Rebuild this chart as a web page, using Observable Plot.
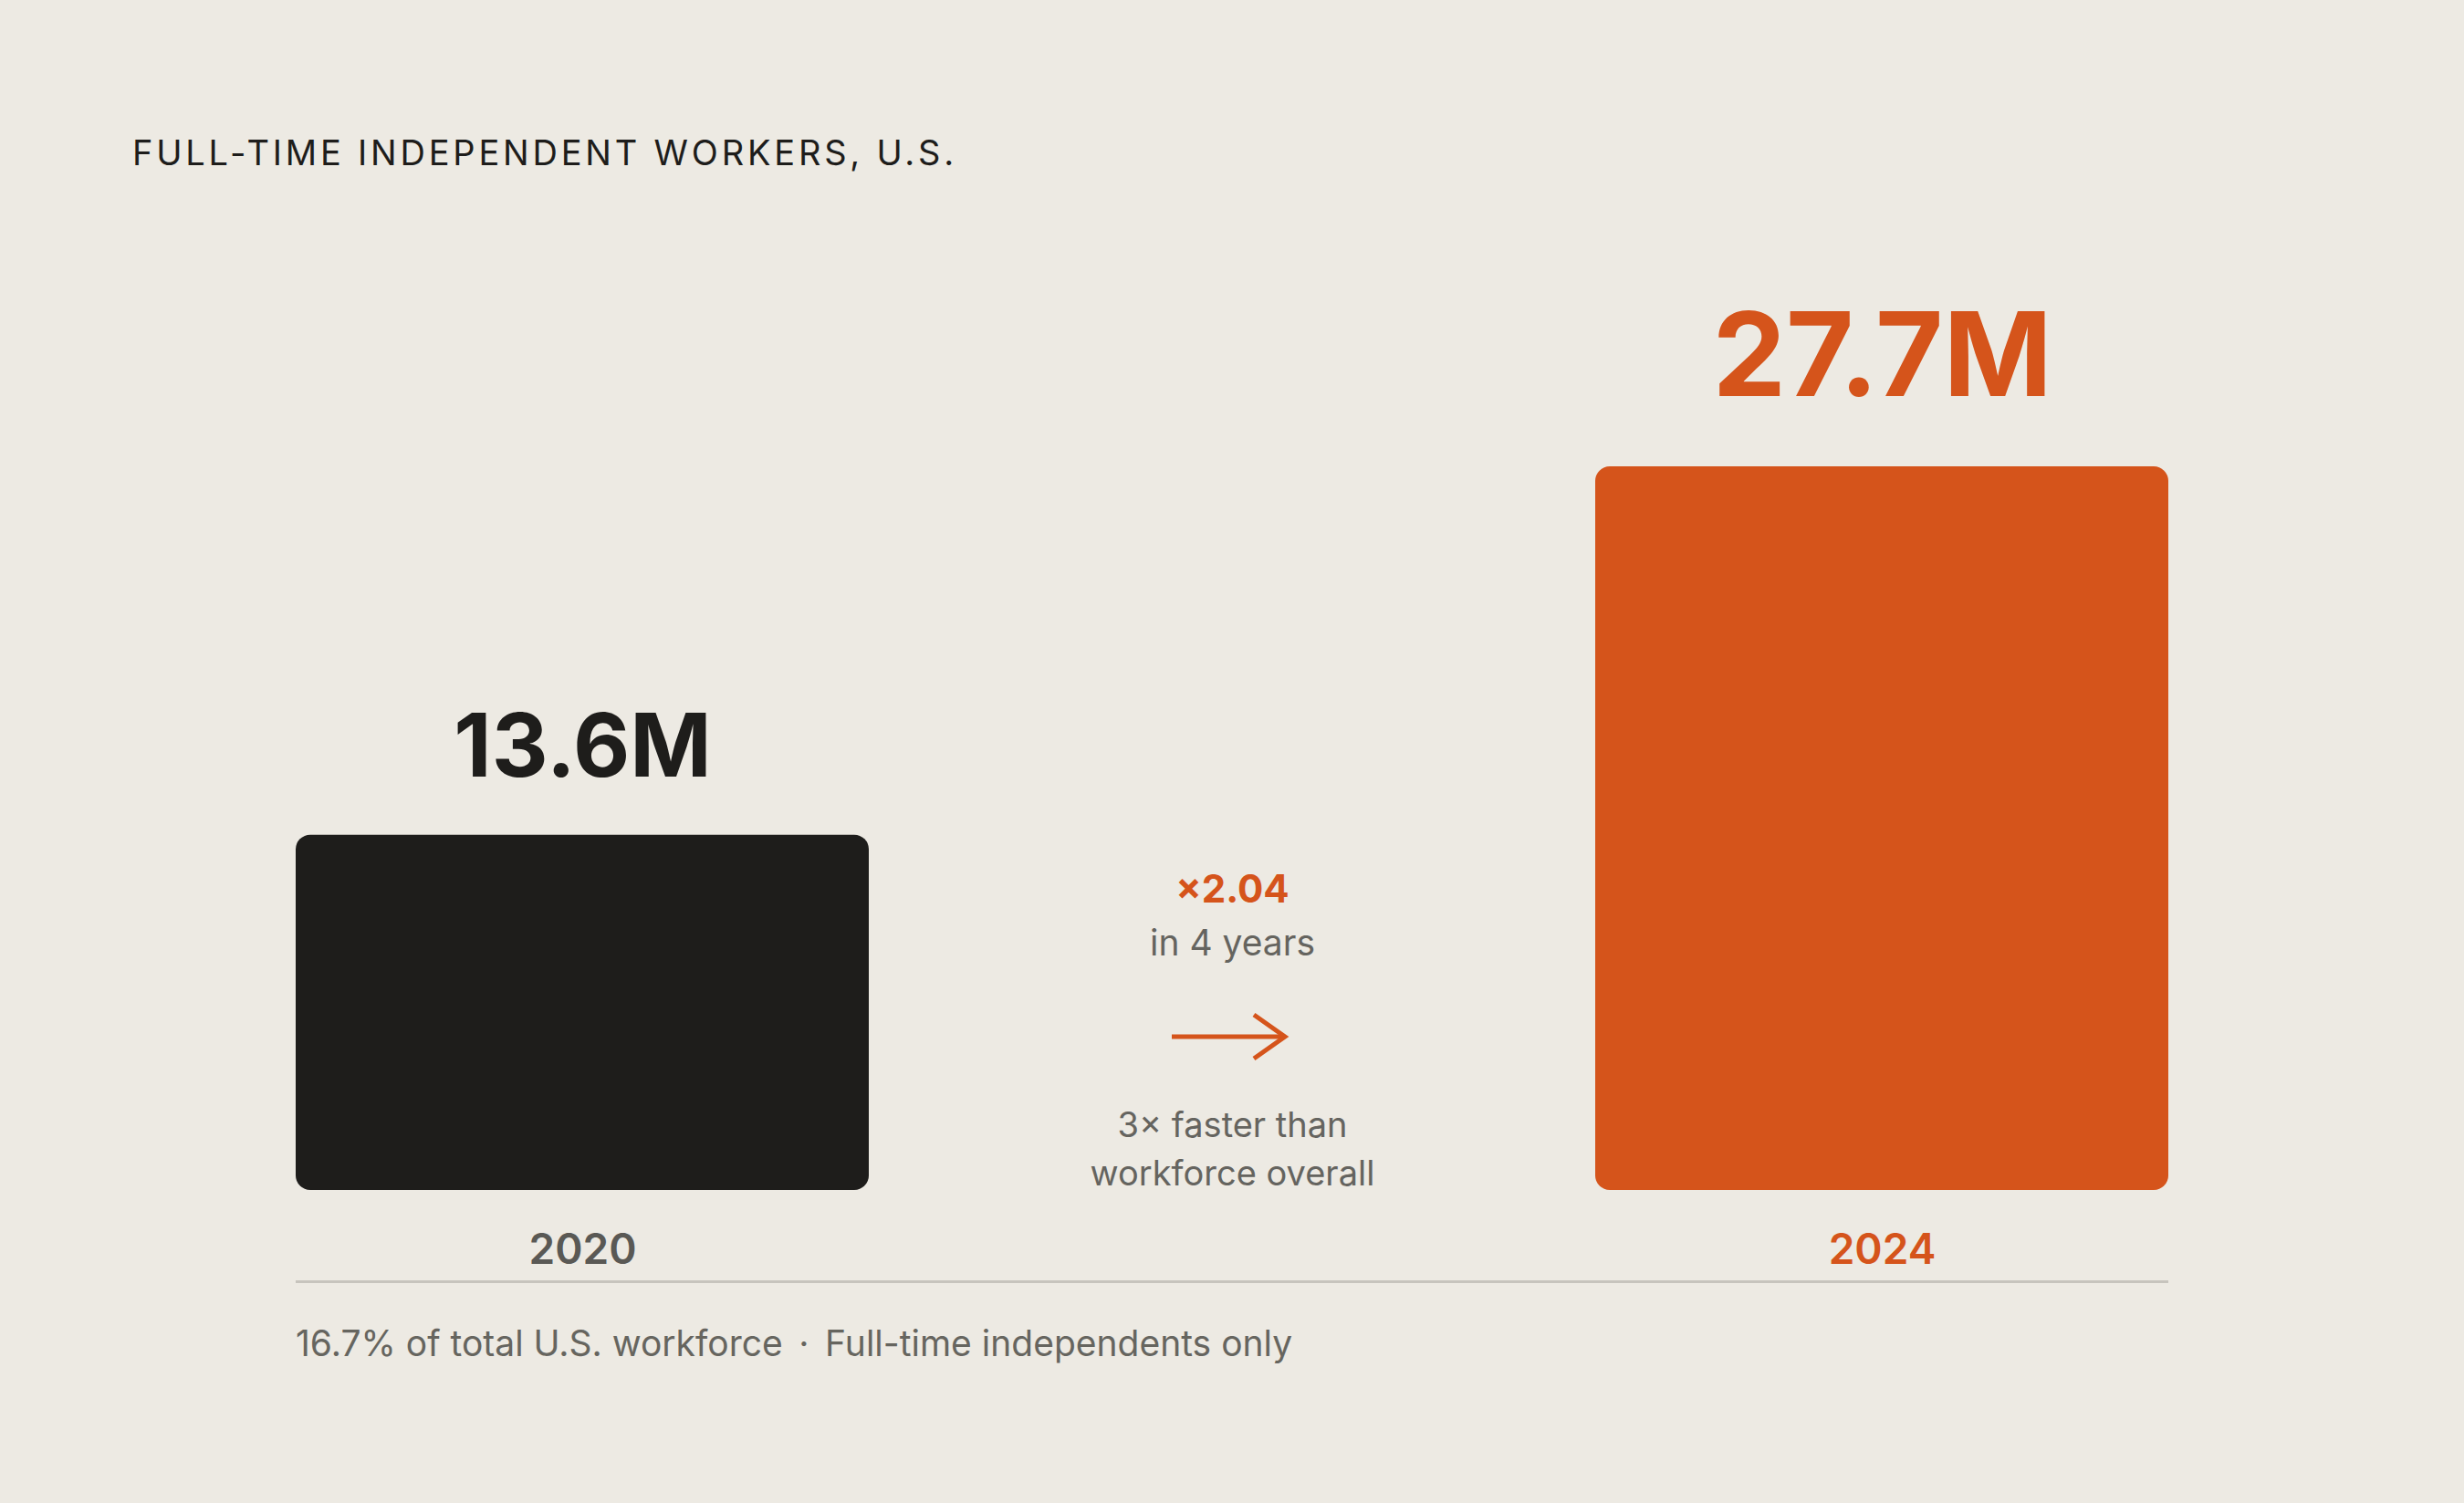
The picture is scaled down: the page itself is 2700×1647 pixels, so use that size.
<!DOCTYPE html>
<html><head><meta charset="utf-8">
<script src="https://cdn.jsdelivr.net/npm/d3@7"></script>
<script src="https://cdn.jsdelivr.net/npm/@observablehq/plot@0.6"></script>
<style>
html,body{margin:0;padding:0;background:#edeae3;}
body{width:2700px;height:1647px;overflow:hidden;font-family:Inter,"DejaVu Sans",sans-serif;}
#title{padding:148px 0 0 145px;font-size:38px;line-height:38px;height:38px;letter-spacing:0.1em;color:#1e1d1b;}
#chart svg{display:block}
#caption{margin:23px 0 0 324px;font-size:39px;line-height:38px;color:#66655f;white-space:pre;}
#caption .sep{margin:0 0.45em;}
</style></head><body>
<div id="title">FULL-TIME INDEPENDENT WORKERS, U.S.</div>
<div id="chart"></div>
<div id="caption"></div>
<script>
// ---- data ----
const years = ["2020", "2024"];
const workersM = [13.6, 27.7];
const valueLabels = ["13.6M", "27.7M"];
const midSlot = "→";
const growthLabel = "×2.04";
const growthNote = "in 4 years";
const compareNote = ["3× faster than", "workforce overall"];
const captionParts = ["16.7% of total U.S. workforce", "Full-time independents only"];

// ---- style ----
const ORANGE = "#d5541b", DARK = "#1e1d1b", GRAY = "#65645f", YEARGRAY = "#5a5955", RULE = "#c7c4bd";

const data = years.map((y, i) => ({year: y, value: workersM[i], label: valueLabels[i]}));
const isNew = d => d.year === years[1];

document.getElementById("caption").innerHTML =
  captionParts[0] + '<span class="sep">·</span>' + captionParts[1];

const arrowMark = (index, scales) => {
  const x = scales.x, y = scales.y;
  const bw = typeof x.bandwidth === "function" ? x.bandwidth() : (x.bandwidth ?? 0);
  const cx = x(midSlot) + bw / 2 - 4;
  const cy = y(0) - 168;
  const half = 62;
  const g = d3.create("svg:g").attr("fill", "none").attr("stroke", ORANGE)
    .attr("stroke-width", 5).attr("stroke-linecap", "butt");
  g.append("line").attr("x1", cx - half).attr("x2", cx + half - 2).attr("y1", cy).attr("y2", cy);
  g.append("path").attr("d", `M${cx + half - 34},${cy - 24}L${cx + half},${cy}L${cx + half - 34},${cy + 24}`);
  return g.node();
};

const chart = Plot.plot({
  width: 2700,
  height: 1244,
  marginLeft: 324,
  marginRight: 324,
  marginTop: 325,
  marginBottom: 126,
  style: {fontFamily: "Inter, 'DejaVu Sans', sans-serif", background: "transparent", overflow: "visible"},
  x: {domain: [years[0], midSlot, years[1]], paddingInner: 0.118, paddingOuter: 0, axis: null},
  y: {domain: [0, workersM[1]], axis: null},
  marks: [
    Plot.barY(data, {x: "year", y: "value", fill: d => isNew(d) ? ORANGE : DARK, rx: 16}),
    Plot.ruleY([0], {dy: 100, stroke: RULE, strokeWidth: 3}),
    Plot.text(data.filter(d => !isNew(d)), {x: "year", y: "value", text: "label", lineAnchor: "bottom",
      dy: -64, fontSize: 96, fontWeight: 700, fill: DARK, letterSpacing: "-0.035em"}),
    Plot.text(data.filter(isNew), {x: "year", y: "value", text: "label", lineAnchor: "bottom",
      dy: -78, fontSize: 128, fontWeight: 700, fill: ORANGE, letterSpacing: "-0.01em"}),
    Plot.text(data, {x: "year", y: 0, text: "year", lineAnchor: "bottom", dy: 80,
      fontSize: 46, fontWeight: 600, fill: d => isNew(d) ? ORANGE : YEARGRAY}),
    Plot.text([growthLabel], {x: () => midSlot, frameAnchor: "bottom", lineAnchor: "bottom", dy: -316,
      fontSize: 42, fontWeight: 700, fill: ORANGE}),
    Plot.text([growthNote], {x: () => midSlot, frameAnchor: "bottom", lineAnchor: "bottom", dy: -258,
      fontSize: 39, fill: GRAY, letterSpacing: "0.02em"}),
    Plot.text([compareNote[0]], {x: () => midSlot, frameAnchor: "bottom", lineAnchor: "bottom", dy: -59,
      fontSize: 38, fill: GRAY}),
    Plot.text([compareNote[1]], {x: () => midSlot, frameAnchor: "bottom", lineAnchor: "bottom", dy: -6,
      fontSize: 38, fill: GRAY}),
    arrowMark
  ]
});
document.getElementById("chart").append(chart);
</script>
</body></html>
